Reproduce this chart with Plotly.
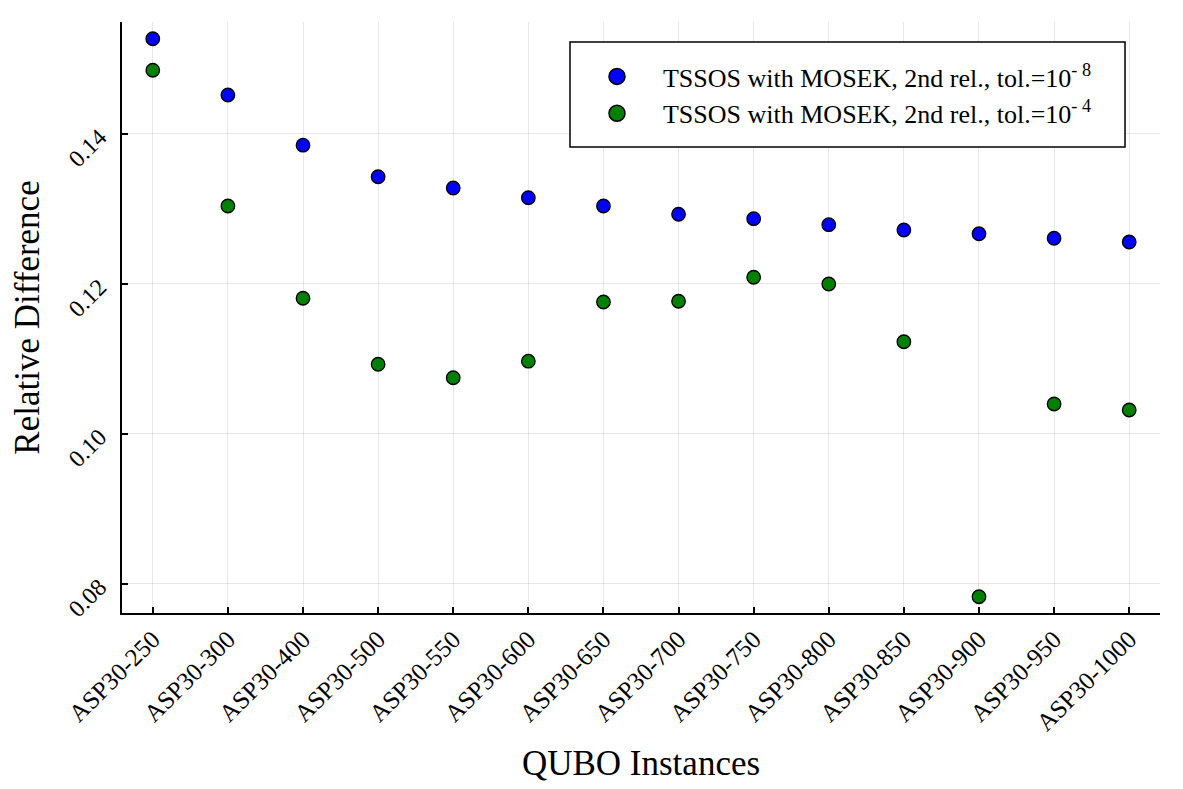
import plotly.graph_objects as go

instances = ["ASP30-250", "ASP30-300", "ASP30-400", "ASP30-500", "ASP30-550", "ASP30-600",
             "ASP30-650", "ASP30-700", "ASP30-750", "ASP30-800", "ASP30-850", "ASP30-900",
             "ASP30-950", "ASP30-1000"]
tol8 = [0.1527, 0.1452, 0.1385, 0.1343, 0.1328, 0.1315, 0.1304, 0.1293, 0.1287, 0.1279,
        0.1272, 0.1267, 0.1261, 0.1256]
tol4 = [0.1485, 0.1304, 0.1181, 0.1093, 0.1075, 0.1097, 0.1176, 0.1177, 0.1209, 0.1200,
        0.1123, 0.0783, 0.1040, 0.1032]
series_names = ["TSSOS with MOSEK, 2nd rel., tol.=10<sup>- 8</sup>",
                "TSSOS with MOSEK, 2nd rel., tol.=10<sup>- 4</sup>"]
series_colors = ["#0000ff", "#008000"]
y_ticks = [0.08, 0.10, 0.12, 0.14]

FONT = "Liberation Serif, DejaVu Serif, serif"

fig = go.Figure()
for vals, name, col in zip([tol8, tol4], series_names, series_colors):
    fig.add_trace(go.Scatter(
        x=instances, y=vals, mode="markers", name=name, showlegend=False,
        marker=dict(color=col, size=13.5, line=dict(color="black", width=1.3)),
    ))
# legend-only entries (larger legend symbols)
for name, col in zip(series_names, series_colors):
    fig.add_trace(go.Scatter(
        x=[None], y=[None], mode="markers",
        name="&nbsp;&nbsp;&nbsp;&nbsp;" + name, showlegend=True,
        marker=dict(color=col, size=16, line=dict(color="black", width=1.5)),
    ))

# legend frame
fig.add_shape(type="rect", xref="paper", yref="paper",
              x0=0.4316, x1=0.9663, y0=0.7885, y1=0.9662,
              line=dict(color="black", width=1.5), fillcolor="white", layer="above")

fig.update_layout(
    width=1175, height=781,
    margin=dict(l=114, r=23, t=14, b=176),
    paper_bgcolor="white", plot_bgcolor="white",
    font=dict(family=FONT, color="black"),
    showlegend=True,
    legend=dict(
        x=0.4576, y=0.8765, xanchor="left", yanchor="middle",
        borderwidth=0, bgcolor="rgba(0,0,0,0)",
        font=dict(size=26, family=FONT),
        itemsizing="trace",
        tracegroupgap=0,
    ),
    xaxis=dict(
        type="category",
        range=[-0.41, 13.41],
        tickangle=-45,
        tickfont=dict(size=25, family=FONT),
        ticks="inside", ticklen=6, tickwidth=1.5, tickcolor="black",
        showline=True, linecolor="black", linewidth=1.5,
        showgrid=True, gridcolor="rgba(0,0,0,0.09)", gridwidth=1,
        zeroline=False, mirror=False,
        title=dict(text="QUBO Instances", font=dict(size=35, family=FONT), standoff=16),
    ),
    yaxis=dict(
        range=[0.07613, 0.15493],
        tickvals=y_ticks,
        ticktext=[f"{v:.2f}" for v in y_ticks],
        tickangle=-45,
        tickfont=dict(size=24, family=FONT),
        ticks="inside", ticklen=6, tickwidth=1.5, tickcolor="black",
        ticklabelstandoff=16,
        showline=True, linecolor="black", linewidth=1.5,
        showgrid=True, gridcolor="rgba(0,0,0,0.09)", gridwidth=1,
        zeroline=False, mirror=False,
        title=dict(text="Relative Difference", font=dict(size=35, family=FONT), standoff=20),
    ),
)

fig.write_html("out.html")
